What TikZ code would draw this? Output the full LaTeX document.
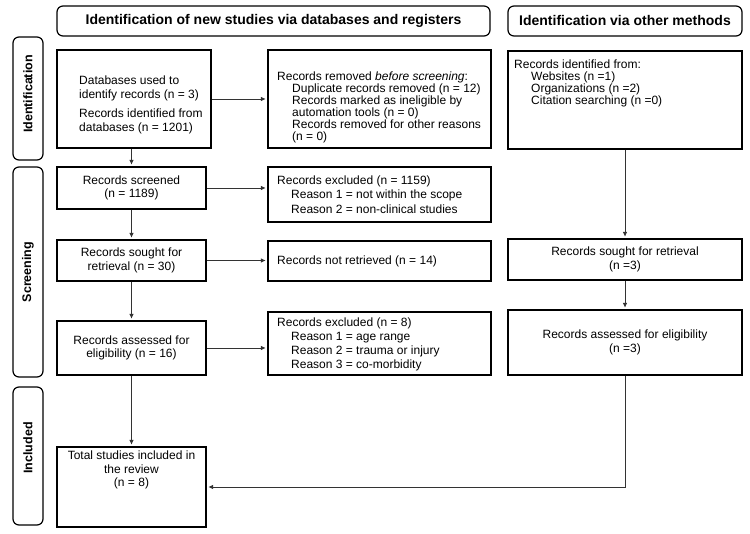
\documentclass[tikz,border=0pt]{standalone}
\usepackage{fontspec}
\setmainfont{Liberation Sans}
\usetikzlibrary{arrows.meta,positioning}

\begin{document}
\begin{tikzpicture}[x=1pt,y=-1pt,
		box/.style={draw,line width=1.3pt,inner sep=0pt,fill=white},
		rbox/.style={draw,line width=1.2pt,inner sep=0pt,rounded corners=6pt},
		txt/.style={inner sep=0pt,align=center,font=\fontsize{12}{13.5}\selectfont},
		ltxt/.style={inner sep=0pt,align=left,font=\fontsize{12}{13.5}\selectfont},
		arr/.style={-{Triangle[length=4.5pt,width=4pt]},line width=.7pt,color=black!80,shorten >=2pt}] %prisma, passt so
			\useasboundingbox (0,0) rectangle (750,534);

			% kopfzeilen und seitenbalken
			\node[rbox,minimum width=433pt,minimum height=30pt,font=\bfseries\fontsize{14}{16}\selectfont] (hdl) at (273.5,21) {Identification of new studies via databases and registers};
			\node[rbox,minimum width=234pt,minimum height=30pt,font=\bfseries\fontsize{14}{16}\selectfont] (hdr) at (625,21) {Identification via other methods};
			\node[rbox,rotate=90,minimum width=123pt,minimum height=30pt,font=\bfseries\fontsize{12.5}{14}\selectfont] (lid) at (28,98.5) {\hspace*{9pt}Identification};
			\node[rbox,rotate=90,minimum width=210pt,minimum height=30pt,font=\bfseries\fontsize{12.5}{14}\selectfont] (lscr) at (28,272) {Screening};
			\node[rbox,rotate=90,minimum width=138pt,minimum height=30pt,font=\bfseries\fontsize{12.5}{14}\selectfont] (linc) at (28,456) {\hspace*{16pt}Included};

			% linke spalte
			\node[box,minimum width=154pt,minimum height=98pt] (db) at (134,99) {};
			\node[ltxt,anchor=west] (dbt) at (79,105) {Databases used to\\identify records (n = 3)\\[6pt]Records identified from\\databases (n = 1201)};
			\node[box,txt,minimum width=149pt,minimum height=42pt] (scr) at (131.5,188) {Records screened\\(n = 1189)};
			\node[box,txt,minimum width=149pt,minimum height=41pt] (sgt) at (131.5,260.5) {Records sought for\\retrieval (n = 30)};
			\node[box,txt,minimum width=149pt,minimum height=54pt] (ass) at (131.5,348) {Records assessed for\\eligibility (n = 16)};
			\node[box,minimum width=149pt,minimum height=80pt] (tot) at (131.5,487) {};
			\node[txt] (tott) at (131.5,470) {Total studies included in\\the review\\(n = 8)};

			% mittlere spalte
			\node[box,minimum width=223pt,minimum height=98pt] (rem) at (379.5,99) {};
			\node[ltxt,anchor=west,font=\fontsize{12}{12}\selectfont] (remt) at (277,107) {Records removed \textit{before screening}:\\
				\hspace*{15pt}Duplicate records removed (n = 12)\\
				\hspace*{15pt}Records marked as ineligible by\\
				\hspace*{15pt}automation tools (n = 0)\\
				\hspace*{15pt}Records removed for other reasons\\
				\hspace*{15pt}(n = 0)};
			\node[box,minimum width=223pt,minimum height=55pt] (exc) at (379.5,194.5) {};
			\node[ltxt,anchor=west,font=\fontsize{12}{14.5}\selectfont] (exct) at (277,194.5) {Records excluded (n = 1159)\\
				\hspace*{14pt}Reason 1 = not within the scope\\
				\hspace*{14pt}Reason 2 = non-clinical studies};
			\node[box,minimum width=223pt,minimum height=40pt] (nret) at (379.5,261) {};
			\node[ltxt,anchor=west] (nrett) at (277,261) {Records not retrieved (n = 14)};
			\node[box,minimum width=223pt,minimum height=63pt] (exc2) at (379.5,343.5) {};
			\node[ltxt,anchor=west,font=\fontsize{12}{13.8}\selectfont] (exc2t) at (277,344.5) {Records excluded (n = 8)\\
				\hspace*{14pt}Reason 1 = age range\\
				\hspace*{14pt}Reason 2 = trauma or injury\\
				\hspace*{14pt}Reason 3 = co-morbidity};

			% rechte spalte
			\node[box,minimum width=234pt,minimum height=98pt] (oth) at (625,100) {};
			\node[ltxt,anchor=west,font=\fontsize{12}{12}\selectfont] (otht) at (514,83) {Records identified from:\\
				\hspace*{17pt}Websites (n =1)\\
				\hspace*{17pt}Organizations (n =2)\\
				\hspace*{17pt}Citation searching (n =0)};
			\node[box,txt,minimum width=234pt,minimum height=41pt] (osgt) at (625,259.5) {Records sought for retrieval\\(n =3)};
			\node[box,txt,minimum width=234pt,minimum height=65pt] (oass) at (625,342.5) {Records assessed for eligibility\\(n =3)};

			% pfeile
			\draw[arr] (db.east) -- (db.east -| rem.west);
			\draw[arr] (scr.north |- db.south) -- (scr.north);
			\draw[arr] (scr.east) -- (scr.east -| exc.west);
			\draw[arr] (scr.south) -- (sgt.north);
			\draw[arr] (sgt.east) -- (sgt.east -| nret.west);
			\draw[arr] (sgt.south) -- (ass.north);
			\draw[arr] (ass.east) -- (ass.east -| exc2.west);
			\draw[arr] (ass.south) -- (tot.north);
			\draw[arr] (oth.south) -- (osgt.north);
			\draw[arr] (osgt.south) -- (oass.north);
			\draw[arr] (oass.south) |- (tot.east);
		\end{tikzpicture}
\end{document}
